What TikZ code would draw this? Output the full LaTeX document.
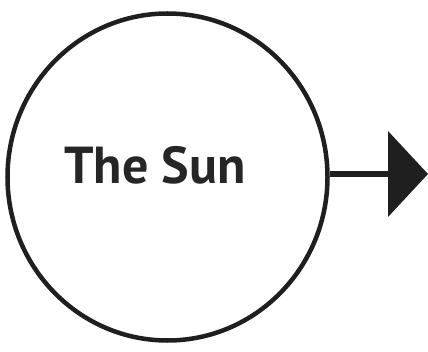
\documentclass[tikz,border=0pt]{standalone}
\usepackage{fontspec}
\setsansfont{PT Sans}
\usetikzlibrary{arrows.meta,shapes.geometric}

\begin{document}
\begin{tikzpicture}[
    x=1pt, y=1pt,
    body/.style={draw=black!88, line width=4.5pt, ellipse, inner sep=0pt,
        minimum width=320pt, minimum height=327pt},
    bodylabel/.style={font=\sffamily\bfseries\fontsize{52}{52}\selectfont, text=black!85},
    ray/.style={draw=black!88, line width=5.5pt,
        -{Triangle[length=40pt, width=86pt, line width=0pt]}}
]
\useasboundingbox (0,0) rectangle (428,351);

% The body and its name.
\node[body] (sun) at (167.5,174) {};
\node[bodylabel] (name) at (155,186) {The Sun};

% Outgoing ray.
\coordinate (tip) at (428,177);
\draw[ray] ([yshift=3pt]sun.east) -- (tip);

\end{tikzpicture}
\end{document}
